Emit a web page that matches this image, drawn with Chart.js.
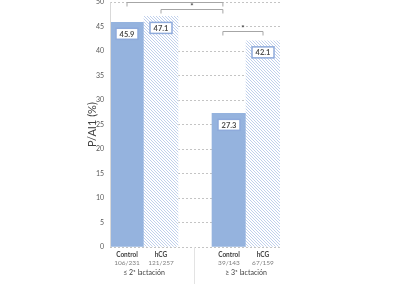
<!DOCTYPE html>
<html>
<head>
<meta charset="utf-8">
<script src="https://cdn.jsdelivr.net/npm/chart.js@4.4.1/dist/chart.umd.min.js"></script>
<style>
  html, body { margin: 0; padding: 0; background: #fff; }
  #wrap { position: relative; width: 410px; height: 300px; overflow: hidden; }
  #chart { position: absolute; left: 0; top: -8px; }
</style>
</head>
<body>
<div id="wrap"><canvas id="chart" width="410" height="308"></canvas></div>
<script>
// data
const treatments = ['Control', 'hCG'];
const groups = ['≤ 2ª lactación', '≥ 3ª lactación'];
const counts = ['106/231', '121/257', '39/143', '67/159'];
const pregRate = [45.9, 47.1, 27.3, 42.1];
const yTicks = [0, 5, 10, 15, 20, 25, 30, 35, 40, 45, 50];
// significance brackets: from index, to index, height (% units)
const brackets = [[0, 2.82, 50.0], [1, 2.82, 48.6], [2.82, 4, 44.2]];

const SOLID = '#95b3de';
const FONT = 'Lato, "Open Sans", sans-serif';

// hatch pattern for hCG bars
function makeHatch() {
    const c = document.createElement('canvas');
    c.width = 3; c.height = 3;
    const g = c.getContext('2d');
    g.fillStyle = '#ffffff';
    g.fillRect(0, 0, 3, 3);
    g.strokeStyle = '#b9cbea';
    g.lineWidth = 0.9;
    g.beginPath();
    g.moveTo(-1, -1); g.lineTo(4, 4);
    g.moveTo(-1, 2); g.lineTo(1, 4);
    g.moveTo(2, -1); g.lineTo(4, 1);
    g.stroke();
    return g.createPattern(c, 'repeat');
}
const hatch = makeHatch();

// 5 slots: two bars, a spacer, two bars
const labels = [treatments[0], treatments[1], '', treatments[0], treatments[1]];
const values = [pregRate[0], pregRate[1], null, pregRate[2], pregRate[3]];
const colors = [SOLID, hatch, 'rgba(0,0,0,0)', SOLID, hatch];
const barCount = [counts[0], counts[1], '', counts[2], counts[3]];

function xAt(scale, idx) {
    const i0 = Math.floor(idx);
    const f = idx - i0;
    if (f === 0) return scale.getPixelForValue(i0);
    const a = scale.getPixelForValue(i0);
    const b = scale.getPixelForValue(i0 + 1);
    return a + (b - a) * f;
}

const overlay = {
    id: 'overlay',
    afterDatasetsDraw(chart) {
        const ctx = chart.ctx;
        const meta = chart.getDatasetMeta(0);
        ctx.save();
        meta.data.forEach((bar, i) => {
            if (values[i] == null) return;
            const txt = values[i].toFixed(1);
            ctx.font = 'bold 7.5px ' + FONT;
            const w = 22, h = 11;
            const x = bar.x - w / 2;
            const y = bar.y + 6;
            ctx.fillStyle = '#ffffff';
            ctx.fillRect(x, y, w, h);
            ctx.strokeStyle = '#8eaadb';
            ctx.lineWidth = 1.5;
            ctx.strokeRect(x, y, w, h);
            ctx.fillStyle = '#4d4d4d';
            ctx.textAlign = 'center';
            ctx.textBaseline = 'middle';
            ctx.fillText(txt, bar.x, y + h / 2 + 0.5);
        });
        ctx.restore();
    },
    afterDraw(chart) {
        const ctx = chart.ctx;
        const xs = chart.scales.x;
        const ys = chart.scales.y;
        const area = chart.chartArea;
        ctx.save();

        // y axis line
        ctx.strokeStyle = '#d9d9d9';
        ctx.lineWidth = 1;
        ctx.beginPath();
        ctx.moveTo(area.left + 0.5, area.top);
        ctx.lineTo(area.left + 0.5, area.bottom);
        ctx.stroke();

        // brackets
        ctx.strokeStyle = '#a6a6a6';
        ctx.fillStyle = '#404040';
        brackets.forEach(([a, b, v]) => {
            const x1 = xAt(xs, a), x2 = xAt(xs, b);
            const y = Math.round(ys.getPixelForValue(v)) + 0.5;
            ctx.beginPath();
            ctx.moveTo(x1, y + 4);
            ctx.lineTo(x1, y);
            ctx.lineTo(x2, y);
            ctx.lineTo(x2, y + 4);
            ctx.stroke();
            ctx.font = 'bold 8px ' + FONT;
            ctx.textAlign = 'center';
            ctx.textBaseline = 'middle';
            ctx.fillText('*', (x1 + x2) / 2, y - 3);
        });

        // category labels
        const base = area.bottom;
        ctx.textAlign = 'center';
        ctx.textBaseline = 'middle';
        labels.forEach((lab, i) => {
            if (!lab) return;
            const x = xs.getPixelForValue(i);
            ctx.font = 'bold 6.5px ' + FONT;
            ctx.fillStyle = '#3f3f3f';
            ctx.fillText(lab, x, base + 8);
            ctx.font = '6.5px ' + FONT;
            ctx.fillStyle = '#7f7f7f';
            ctx.fillText(barCount[i], x, base + 16);
        });
        ctx.font = '7px ' + FONT;
        ctx.fillStyle = '#3f3f3f';
        ctx.fillText(groups[0], (xs.getPixelForValue(0) + xs.getPixelForValue(1)) / 2, base + 25.5);
        ctx.fillText(groups[1], (xs.getPixelForValue(3) + xs.getPixelForValue(4)) / 2, base + 25.5);

        // separator between groups
        const sx = Math.round(xs.getPixelForValue(2)) - 0.5;
        ctx.strokeStyle = '#e3e3e3';
        ctx.beginPath();
        ctx.moveTo(sx, base);
        ctx.lineTo(sx, base + 37);
        ctx.stroke();

        ctx.restore();
    }
};

new Chart(document.getElementById('chart'), {
    type: 'bar',
    data: {
        labels: labels,
        datasets: [{
            data: values,
            backgroundColor: colors,
            borderWidth: 0,
            barPercentage: 1,
            categoryPercentage: 1
        }]
    },
    options: {
        responsive: false,
        animation: false,
        devicePixelRatio: 1,
        layout: {
            autoPadding: false,
            padding: { left: 70, right: 130, top: 0, bottom: 0 }
        },
        plugins: {
            legend: { display: false },
            tooltip: { enabled: false }
        },
        scales: {
            x: {
                grid: { display: false },
                border: { display: false },
                ticks: { display: false },
                afterFit: s => { s.height = 53; }
            },
            y: {
                min: 0,
                max: 50,
                afterBuildTicks: s => { s.ticks = yTicks.map(v => ({ value: v })); },
                afterFit: s => { s.width = 40; },
                grid: { color: '#c4c4c4', lineWidth: 1, drawTicks: false },
                border: { display: false, dash: [2, 2] },
                ticks: {
                    color: '#595959',
                    padding: 6,
                    font: { family: FONT, size: 7 }
                },
                title: {
                    display: true,
                    text: 'P/AI1 (%)',
                    color: '#404040',
                    padding: { top: 16, bottom: 0 },
                    font: { family: FONT, size: 11 }
                }
            }
        }
    },
    plugins: [overlay]
});
</script>
</body>
</html>
